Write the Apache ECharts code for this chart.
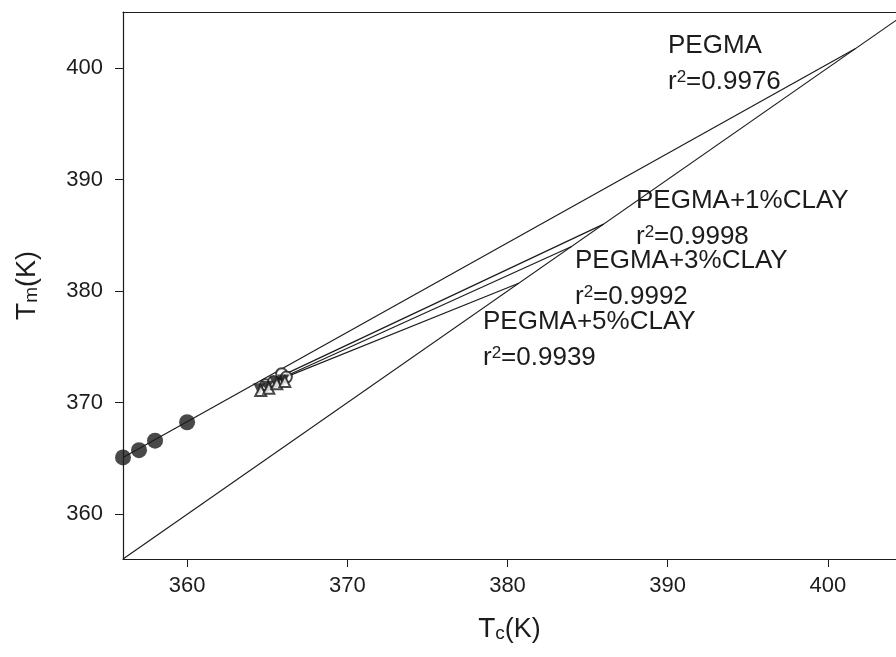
<!DOCTYPE html>
<html>
<head>
<meta charset="utf-8">
<script src="https://cdn.jsdelivr.net/npm/echarts@6/dist/echarts.min.js"></script>
<style>
  html, body { margin: 0; padding: 0; background: #fff; }
  #chart { width: 896px; height: 657px; }
</style>
</head>
<body>
<div id="chart"></div>
<script>
// Hoffman-Weeks plot data
const tickValues = [360, 370, 380, 390, 400];

const pegmaTc = [356, 357, 358, 360];
const pegmaTm = [365.1, 365.75, 366.6, 368.25];

const clay1Tc = [364.9, 365.4, 365.9, 366.2];
const clay1Tm = [371.6, 371.9, 372.6, 372.3];
const clay3Tc = [364.5, 365.0, 365.5, 366.0];
const clay3Tm = [371.2, 371.4, 371.8, 372.0];
const clay5Tc = [364.6, 365.1, 365.6, 366.1];
const clay5Tm = [371.1, 371.3, 371.7, 371.9];

// fitted lines: [Tc start, Tc end], [Tm start, Tm end]
const pegmaFitTc = [356, 401.7];
const pegmaFitTm = [365.1, 401.7];
const clay1FitTc = [364.7, 386.0];
const clay1FitTm = [371.6, 386.0];
const clay3FitTc = [364.5, 384.0];
const clay3FitTm = [371.3, 384.0];
const clay5FitTc = [364.6, 380.7];
const clay5FitTm = [371.4, 380.7];
const diagTc = [356, 404.3];
const diagTm = [356, 404.3];

const seriesNames = ['PEGMA', 'PEGMA+1%CLAY', 'PEGMA+3%CLAY', 'PEGMA+5%CLAY'];
const rSquared = ['0.9976', '0.9998', '0.9992', '0.9939'];

function zip(xs, ys) {
  return xs.map((x, i) => [x, ys[i]]);
}

const ink = '#1c1c1c';
const font = 'Liberation Sans, Arial, sans-serif';

function lineSeries(xs, ys) {
  return {
    type: 'line',
    data: zip(xs, ys),
    symbol: 'none',
    lineStyle: { color: ink, width: 1.2 },
    silent: true,
    z: 2
  };
}

function nameText(name, left, top) {
  return {
    type: 'text',
    left: left,
    top: top,
    style: { text: name, font: '26px ' + font, fill: ink }
  };
}

function rText(r, left, top) {
  return {
    type: 'text',
    left: left,
    top: top,
    style: {
      text: '{a|r}{s|2}{a|=' + r + '}',
      fill: ink,
      rich: {
        a: { fontSize: 26, fontFamily: font, color: ink, lineHeight: 26, verticalAlign: 'bottom', padding: [9, 0, 0, 0] },
        s: { fontSize: 17, fontFamily: font, color: ink, lineHeight: 17, verticalAlign: 'top' }
      }
    }
  };
}

const axisRich = {
  t: { fontSize: 28, fontFamily: font, color: ink, lineHeight: 28, verticalAlign: 'top', padding: [0, 0, 8, 0] },
  s: { fontSize: 19, fontFamily: font, color: ink, lineHeight: 19, verticalAlign: 'bottom' },
  k: { fontSize: 27, fontFamily: font, color: ink, lineHeight: 27, verticalAlign: 'bottom' }
};

var chart = echarts.init(document.getElementById('chart'));

option = {
  backgroundColor: '#fff',
  animation: false,
  grid: {
    left: 123,
    top: 12,
    right: 0,
    bottom: 98
  },
  xAxis: [
    {
      type: 'value',
      min: 356,
      max: 404.25,
      name: '{t|T}{s|c}{k|(K)}',
      nameLocation: 'middle',
      nameGap: 56,
      nameTextStyle: { rich: axisRich },
      axisLine: { show: true, lineStyle: { color: ink, width: 1.2 } },
      axisTick: { show: true, length: 8, customValues: tickValues, lineStyle: { color: ink } },
      axisLabel: { customValues: tickValues, margin: 16, fontSize: 22, fontFamily: font, color: ink },
      splitLine: { show: false }
    },
    {
      type: 'value',
      position: 'top',
      min: 356,
      max: 404.25,
      axisLine: { show: true, lineStyle: { color: ink, width: 1.2 } },
      axisTick: { show: false },
      axisLabel: { show: false },
      splitLine: { show: false }
    }
  ],
  yAxis: {
    type: 'value',
    min: 356,
    max: 405,
    name: '{t|T}{s|m}{k|(K)}',
    nameLocation: 'middle',
    nameGap: 82,
    nameRotate: 90,
    nameTextStyle: { rich: axisRich },
    axisLine: { show: true, lineStyle: { color: ink, width: 1.2 } },
    axisTick: { show: true, length: 8, customValues: tickValues, lineStyle: { color: ink } },
    axisLabel: { customValues: tickValues, margin: 20, fontSize: 22, fontFamily: font, color: ink },
    splitLine: { show: false }
  },
  graphic: [
    nameText(seriesNames[0], 668, 33),
    rText(rSquared[0], 668, 60),
    nameText(seriesNames[1], 636, 188),
    rText(rSquared[1], 636, 215),
    nameText(seriesNames[2], 575, 248),
    rText(rSquared[2], 575, 275),
    nameText(seriesNames[3], 483, 309),
    rText(rSquared[3], 483, 336)
  ],
  series: [
    lineSeries(diagTc, diagTm),
    lineSeries(pegmaFitTc, pegmaFitTm),
    lineSeries(clay1FitTc, clay1FitTm),
    lineSeries(clay3FitTc, clay3FitTm),
    lineSeries(clay5FitTc, clay5FitTm),
    {
      name: seriesNames[0],
      type: 'scatter',
      data: zip(pegmaTc, pegmaTm),
      symbol: 'circle',
      symbolSize: 16,
      itemStyle: { color: ink },
      z: 3
    },
    {
      name: seriesNames[1],
      type: 'scatter',
      data: zip(clay1Tc, clay1Tm),
      symbol: 'emptyCircle',
      symbolSize: 11,
      itemStyle: { color: ink, borderColor: ink, borderWidth: 1.5 },
      z: 3
    },
    {
      name: seriesNames[2],
      type: 'scatter',
      data: zip(clay3Tc, clay3Tm),
      symbol: 'triangle',
      symbolRotate: 180,
      symbolSize: 12,
      itemStyle: { color: ink },
      z: 3
    },
    {
      name: seriesNames[3],
      type: 'scatter',
      data: zip(clay5Tc, clay5Tm),
      symbol: 'emptyTriangle',
      symbolSize: 11,
      itemStyle: { color: ink, borderColor: ink, borderWidth: 2.5 },
      z: 3
    }
  ]
};

chart.setOption(option);
</script>
</body>
</html>
